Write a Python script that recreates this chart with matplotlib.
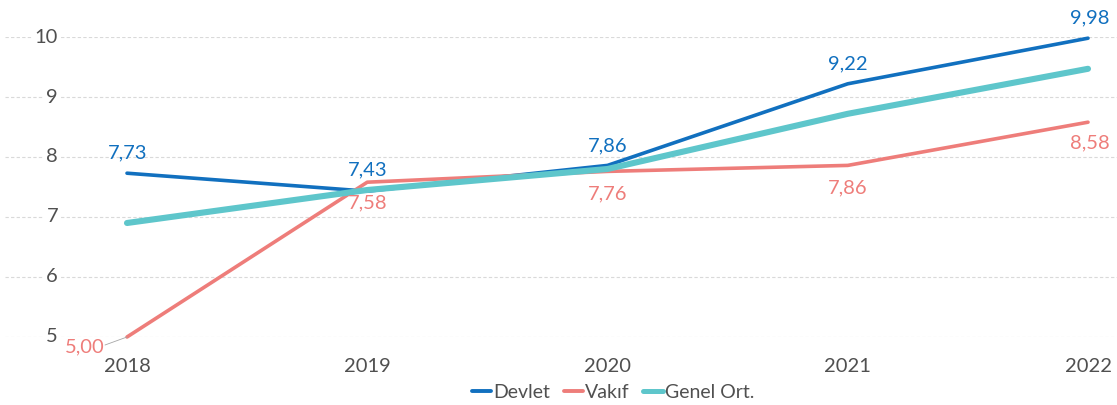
import matplotlib
matplotlib.use("Agg")
import matplotlib.pyplot as plt
from matplotlib.lines import Line2D

plt.rcParams['font.family'] = ['Lato', 'DejaVu Sans']

years = ["2018", "2019", "2020", "2021", "2022"]
devlet = [7.73, 7.43, 7.86, 9.22, 9.98]
vakif = [5.00, 7.58, 7.76, 7.86, 8.58]
genel = [6.90, 7.45, 7.80, 8.72, 9.47]
yticks = [5, 6, 7, 8, 9, 10]

c_devlet = "#1170bf"
c_vakif = "#ee7d7a"
c_genel = "#5ec6cb"
c_text = "#505050"

W, H = 1117, 405
fig = plt.figure(figsize=(W / 100, H / 100), dpi=100)
left_px, right_px, top_px, bot_px = 5, 1117, 37, 337
ax = fig.add_axes([left_px / W, (H - bot_px) / H, (right_px - left_px) / W, (bot_px - top_px) / H])

x = list(range(len(years)))
unit = (1088 - 127) / 4
ax.set_xlim(-(127 - left_px) / unit, 4 + (right_px - 1088) / unit)
ax.set_ylim(5, 10)

for v in yticks:
    ax.axhline(v, color="#d9d9d9", lw=0.8, ls=(0, (3, 2)), zorder=0)

ax.plot(x, devlet, color=c_devlet, lw=2.6, solid_capstyle="round", clip_on=False, zorder=3)
ax.plot(x, vakif, color=c_vakif, lw=2.6, solid_capstyle="round", clip_on=False, zorder=3)
ax.plot(x, genel, color=c_genel, lw=4.4, solid_capstyle="round", clip_on=False, zorder=4)

for s in ax.spines.values():
    s.set_visible(False)
ax.set_xticks([])
ax.set_yticks([])

# y tick labels sitting on the gridlines
for v in yticks:
    ax.annotate(str(v), xy=(0, v), xycoords=("axes fraction", "data"),
                xytext=(58 - left_px, 0), textcoords="offset pixels",
                ha="right", va="center", fontsize=14.5, color=c_text,
                bbox=dict(boxstyle="square,pad=0.12", fc="white", ec="none"), zorder=2)

# x category labels
for i, yr in enumerate(years):
    ax.annotate(yr, xy=(i, 5), xycoords="data", xytext=(0, -30), textcoords="offset pixels",
                ha="center", va="center", fontsize=14.5, color=c_text)

def fmt(v):
    return f"{v:.2f}".replace(".", ",")

# value labels: offsets in pixels (dx, dy)
dev_off = [(1, 20), (0, 21), (0, 20), (0, 20), (2, 20)]
vak_off = [(-42, -10), (0, -21), (0, -22), (0, -22), (2, -21)]
for i, v in enumerate(devlet):
    ax.annotate(fmt(v), xy=(i, v), xytext=dev_off[i], textcoords="offset pixels",
                ha="center", va="center", fontsize=14.5, color=c_devlet, zorder=5)
for i, v in enumerate(vakif):
    ax.annotate(fmt(v), xy=(i, v), xytext=vak_off[i], textcoords="offset pixels",
                ha="center", va="center", fontsize=14.5, color=c_vakif, zorder=5)

# leader line for the first Vakıf label
ax.annotate("", xy=(0, vakif[0]), xytext=(-22, -8), textcoords="offset pixels",
            arrowprops=dict(arrowstyle="-", color="#a6a6a6", lw=0.6, shrinkA=0, shrinkB=0))

handles = [Line2D([], [], color=c_devlet, lw=2.8, solid_capstyle="round"),
           Line2D([], [], color=c_vakif, lw=2.8, solid_capstyle="round"),
           Line2D([], [], color=c_genel, lw=3.6, solid_capstyle="round")]
fig.legend(handles, ["Devlet", "Vakıf", "Genel Ort."], loc="center",
           bbox_to_anchor=(613 / W, (H - 392) / H), ncol=3, frameon=False,
           fontsize=14, handlelength=1.0, handletextpad=0.1, columnspacing=0.7,
           labelcolor=c_text)

fig.savefig("out.png", dpi=100)
